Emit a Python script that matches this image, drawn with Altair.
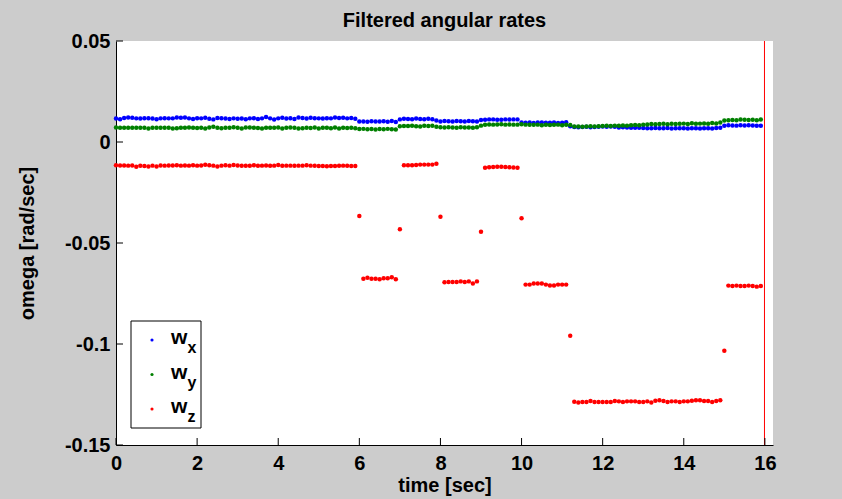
import altair as alt
import pandas as pd

# ---------------- data ----------------
series_names = ["wx", "wy", "wz"]
series_colors = ["#0000ff", "#008000", "#ff0000"]
subscripts = ["x", "y", "z"]

n_samples = 160
time_s = [i / 10 for i in range(n_samples)]   # 10 Hz sample clock

wx = [
    0.0116, 0.0113, 0.0119, 0.0121, 0.0120, 0.0117, 0.0116, 0.0118, 0.0118, 0.0116,
    0.0113, 0.0117, 0.0118, 0.0117, 0.0117, 0.0121, 0.0120, 0.0121, 0.0117, 0.0114,
    0.0118, 0.0117, 0.0120, 0.0115, 0.0112, 0.0119, 0.0118, 0.0116, 0.0114, 0.0117,
    0.0115, 0.0116, 0.0113, 0.0117, 0.0118, 0.0114, 0.0117, 0.0124, 0.0117, 0.0111,
    0.0117, 0.0120, 0.0116, 0.0118, 0.0114, 0.0121, 0.0119, 0.0116, 0.0120, 0.0118,
    0.0117, 0.0116, 0.0118, 0.0117, 0.0121, 0.0119, 0.0120, 0.0117, 0.0119, 0.0115,
    0.0101, 0.0102, 0.0100, 0.0103, 0.0101, 0.0101, 0.0103, 0.0100, 0.0104, 0.0099,
    0.0112, 0.0115, 0.0114, 0.0113, 0.0116, 0.0114, 0.0113, 0.0115, 0.0113, 0.0106,
    0.0102, 0.0104, 0.0103, 0.0102, 0.0104, 0.0103, 0.0101, 0.0104, 0.0103, 0.0102,
    0.0109, 0.0110, 0.0112, 0.0112, 0.0110, 0.0110, 0.0112, 0.0111, 0.0112, 0.0112,
    0.0097, 0.0095, 0.0097, 0.0094, 0.0096, 0.0096, 0.0095, 0.0095, 0.0096, 0.0094,
    0.0095, 0.0098, 0.0078, 0.0074, 0.0073, 0.0074, 0.0075, 0.0073, 0.0074, 0.0075,
    0.0077, 0.0076, 0.0077, 0.0075, 0.0072, 0.0073, 0.0072, 0.0071, 0.0070, 0.0070,
    0.0069, 0.0068, 0.0068, 0.0069, 0.0068, 0.0068, 0.0069, 0.0067, 0.0068, 0.0068,
    0.0068, 0.0067, 0.0068, 0.0068, 0.0067, 0.0068, 0.0068, 0.0067, 0.0069, 0.0071,
    0.0080, 0.0083, 0.0082, 0.0081, 0.0083, 0.0082, 0.0083, 0.0082, 0.0080, 0.0080,
]

wy = [
    0.0072, 0.0071, 0.0071, 0.0070, 0.0071, 0.0071, 0.0070, 0.0071, 0.0067, 0.0070,
    0.0071, 0.0071, 0.0070, 0.0071, 0.0067, 0.0068, 0.0071, 0.0071, 0.0072, 0.0071,
    0.0069, 0.0070, 0.0067, 0.0072, 0.0075, 0.0071, 0.0068, 0.0071, 0.0070, 0.0073,
    0.0071, 0.0067, 0.0072, 0.0072, 0.0071, 0.0069, 0.0067, 0.0070, 0.0071, 0.0071,
    0.0072, 0.0067, 0.0071, 0.0072, 0.0071, 0.0067, 0.0068, 0.0070, 0.0069, 0.0072,
    0.0067, 0.0070, 0.0071, 0.0068, 0.0072, 0.0067, 0.0070, 0.0069, 0.0070, 0.0068,
    0.0064, 0.0065, 0.0063, 0.0064, 0.0062, 0.0064, 0.0063, 0.0065, 0.0063, 0.0062,
    0.0078, 0.0079, 0.0079, 0.0080, 0.0078, 0.0077, 0.0080, 0.0079, 0.0080, 0.0075,
    0.0073, 0.0072, 0.0073, 0.0072, 0.0070, 0.0073, 0.0072, 0.0072, 0.0071, 0.0073,
    0.0081, 0.0085, 0.0087, 0.0086, 0.0087, 0.0088, 0.0086, 0.0087, 0.0086, 0.0086,
    0.0088, 0.0086, 0.0085, 0.0085, 0.0086, 0.0083, 0.0085, 0.0084, 0.0085, 0.0086,
    0.0083, 0.0085, 0.0084, 0.0077, 0.0077, 0.0076, 0.0077, 0.0078, 0.0077, 0.0078,
    0.0079, 0.0080, 0.0079, 0.0081, 0.0080, 0.0082, 0.0081, 0.0083, 0.0084, 0.0083,
    0.0086, 0.0087, 0.0089, 0.0088, 0.0089, 0.0090, 0.0088, 0.0090, 0.0089, 0.0090,
    0.0091, 0.0089, 0.0093, 0.0090, 0.0091, 0.0092, 0.0090, 0.0094, 0.0092, 0.0097,
    0.0106, 0.0108, 0.0109, 0.0108, 0.0111, 0.0110, 0.0109, 0.0110, 0.0108, 0.0111,
]

wz = [
    -0.0115, -0.0116, -0.0116, -0.0117, -0.0116, -0.0122, -0.0118, -0.0119, -0.0121, -0.0117,
    -0.0121, -0.0116, -0.0117, -0.0116, -0.0116, -0.0115, -0.0117, -0.0116, -0.0117, -0.0115,
    -0.0117, -0.0116, -0.0113, -0.0115, -0.0117, -0.0121, -0.0117, -0.0115, -0.0117, -0.0114,
    -0.0116, -0.0118, -0.0118, -0.0118, -0.0115, -0.0118, -0.0117, -0.0116, -0.0118, -0.0117,
    -0.0114, -0.0118, -0.0117, -0.0117, -0.0118, -0.0117, -0.0117, -0.0115, -0.0117, -0.0118,
    -0.0119, -0.0119, -0.0120, -0.0119, -0.0119, -0.0118, -0.0117, -0.0118, -0.0119, -0.0119,
    -0.0366, -0.0677, -0.0672, -0.0677, -0.0677, -0.0680, -0.0675, -0.0675, -0.0670, -0.0680,
    -0.0432, -0.0115, -0.0115, -0.0115, -0.0114, -0.0112, -0.0112, -0.0112, -0.0112, -0.0108,
    -0.0370, -0.0694, -0.0693, -0.0693, -0.0693, -0.0690, -0.0693, -0.0690, -0.0700, -0.0690,
    -0.0444, -0.0127, -0.0125, -0.0124, -0.0122, -0.0123, -0.0124, -0.0125, -0.0126, -0.0127,
    -0.0378, -0.0706, -0.0706, -0.0701, -0.0701, -0.0701, -0.0706, -0.0710, -0.0710, -0.0706,
    -0.0706, -0.0706, -0.0959, -0.1286, -0.1290, -0.1287, -0.1287, -0.1282, -0.1287, -0.1287,
    -0.1287, -0.1287, -0.1287, -0.1282, -0.1284, -0.1287, -0.1284, -0.1284, -0.1284, -0.1287,
    -0.1287, -0.1284, -0.1290, -0.1281, -0.1279, -0.1282, -0.1287, -0.1284, -0.1284, -0.1287,
    -0.1284, -0.1284, -0.1281, -0.1279, -0.1279, -0.1282, -0.1282, -0.1287, -0.1282, -0.1279,
    -0.1033, -0.0711, -0.0713, -0.0711, -0.0713, -0.0713, -0.0711, -0.0713, -0.0716, -0.0713,
]

marker_time = [15.99]
x_ticks = [0, 2, 4, 6, 8, 10, 12, 14, 16]
y_ticks = [0.05, 0, -0.05, -0.1, -0.15]
x_domain = [0, 16.2]
y_domain = [-0.15, 0.05]

# ---------------- layout ----------------
W, H = 657, 404
FONT = "Liberation Sans"

rows = []
for name, vals in zip(series_names, [wx, wy, wz]):
    for t, v in zip(time_s, vals):
        rows.append({"t": t, "v": v, "series": name})
df = pd.DataFrame(rows)

xs = alt.Scale(domain=x_domain, nice=False, zero=False)
ys = alt.Scale(domain=y_domain, nice=False, zero=False)

x_axis = alt.Axis(values=x_ticks, title="time [sec]", ticks=False, grid=False,
                  labelPadding=8, titleY=46, titleBaseline="alphabetic",
                  labelFlush=False, domain=True, labels=True)
y_axis = alt.Axis(values=y_ticks, title="omega [rad/sec]", ticks=False, grid=False,
                  labelPadding=6, labelExpr="'' + datum.value", titleX=-79,
                  labelFlush=False, domain=True, labels=True)

X = alt.X("t:Q", scale=xs, axis=x_axis, title="time [sec]")
Y = alt.Y("v:Q", scale=ys, axis=y_axis, title="omega [rad/sec]")

points = alt.Chart(df).mark_circle(size=20, opacity=1).encode(
    x=X, y=Y,
    color=alt.Color("series:N", scale=alt.Scale(domain=series_names, range=series_colors),
                    legend=None),
)

vline = alt.Chart(pd.DataFrame({"t": marker_time})).mark_rule(
    color="#ff0000", strokeWidth=1).encode(x=X)

xt = alt.Chart(pd.DataFrame({"t": x_ticks})).mark_rule(color="black", strokeWidth=1).encode(
    x=X, y=alt.value(H), y2=alt.value(H - 7))
yt = alt.Chart(pd.DataFrame({"v": y_ticks})).mark_rule(color="black", strokeWidth=1).encode(
    y=Y, x=alt.value(0), x2=alt.value(7))

one = pd.DataFrame({"a": [0]})
legend_layers = [
    alt.Chart(one).mark_rect(fill="white", stroke="black", strokeWidth=1).encode(
        x=alt.value(15), x2=alt.value(85), y=alt.value(280), y2=alt.value(387))
]
for i, (col, sub) in enumerate(zip(series_colors, subscripts)):
    yc = 299 + 34.5 * i
    legend_layers.append(alt.Chart(one).mark_circle(size=10, opacity=1, color=col).encode(
        x=alt.value(36), y=alt.value(yc)))
    legend_layers.append(alt.Chart(one).mark_text(
        text="w", align="left", baseline="alphabetic", font=FONT, fontWeight="bold",
        fontSize=21, color="black").encode(x=alt.value(55), y=alt.value(yc + 4)))
    legend_layers.append(alt.Chart(one).mark_text(
        text=sub, align="left", baseline="alphabetic", font=FONT, fontWeight="bold",
        fontSize=16, color="black").encode(x=alt.value(71.5), y=alt.value(yc + 13)))

chart = alt.layer(points, vline, xt, yt, *legend_layers).properties(
    width=W, height=H,
    title=alt.TitleParams("Filtered angular rates", font=FONT, fontSize=20, fontWeight="bold",
                          anchor="middle", offset=0, color="black"),
    autosize=alt.AutoSizeParams(type="none"),
    padding={"left": 116, "top": 41, "right": 69, "bottom": 54},
    background="#cccccc",
).configure_view(stroke=None, fill="white").configure_axis(
    domainColor="black", domainWidth=1,
    labelFont=FONT, labelFontSize=20, labelFontWeight="bold", labelColor="black",
    titleFont=FONT, titleFontSize=20, titleFontWeight="bold", titleColor="black",
)

chart.save("out.html", embed_options={"renderer": "svg", "actions": False})
